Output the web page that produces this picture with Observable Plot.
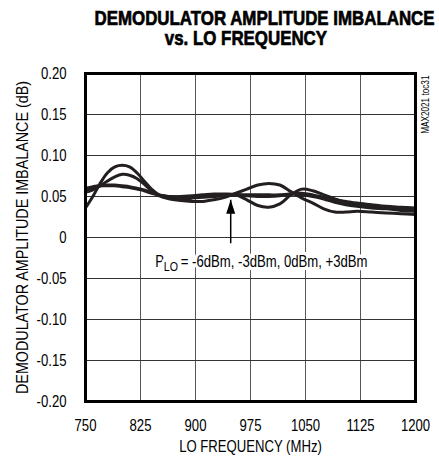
<!DOCTYPE html>
<html><head><meta charset="utf-8">
<script src="https://cdn.jsdelivr.net/npm/d3@7"></script>
<script src="https://cdn.jsdelivr.net/npm/@observablehq/plot@0.6"></script>
<style>
body{margin:0;background:#fff;}
#title{box-sizing:border-box;width:439px;height:48px;padding:8px 0 0 53px;font-family:"Liberation Sans",Arial,sans-serif;font-weight:bold;font-size:21px;line-height:20px;text-align:center;color:#000;white-space:nowrap;-webkit-text-stroke:0.7px #000;}
#title span{display:inline-block;transform-origin:center;height:20px;}
#chart svg{display:block;}
</style></head><body>
<div id="title"></div>
<div id="chart"></div>
<script>
const titleLines = ["DEMODULATOR AMPLITUDE IMBALANCE", "vs. LO FREQUENCY"];
const xLabel = "LO FREQUENCY (MHz)";
const yLabel = "DEMODULATOR AMPLITUDE IMBALANCE (dB)";
const annotationParts = ["P", "LO", " = -6dBm, -3dBm, 0dBm, +3dBm"];
const watermark = "MAX2021 toc31";
const xTicks = [750, 825, 900, 975, 1050, 1125, 1200];
const yTicks = [0.20, 0.15, 0.10, 0.05, 0, -0.05, -0.10, -0.15, -0.20];

const freqs = [750, 760, 770, 780, 790, 800, 810, 820, 830, 840, 850, 865, 880, 895, 910, 925, 940, 955, 970, 985, 1000, 1015, 1030, 1045, 1060, 1075, 1090, 1105, 1120, 1140, 1160, 1180, 1200];
const seriesA = [0.036, 0.050, 0.066, 0.079, 0.086, 0.088, 0.086, 0.079, 0.069, 0.059, 0.052, 0.048, 0.047, 0.048, 0.049, 0.050, 0.051, 0.052, 0.052, 0.052, 0.052, 0.052, 0.053, 0.052, 0.050, 0.047, 0.043, 0.040, 0.038, 0.036, 0.035, 0.033, 0.032];
const seriesB = [0.055, 0.058, 0.063, 0.069, 0.074, 0.077, 0.076, 0.072, 0.065, 0.057, 0.051, 0.047, 0.045, 0.044, 0.044, 0.046, 0.049, 0.054, 0.059, 0.064, 0.066, 0.064, 0.056, 0.048, 0.042, 0.035, 0.031, 0.031, 0.032, 0.031, 0.030, 0.029, 0.028];
const seriesC = [0.058, 0.061, 0.063, 0.063, 0.063, 0.062, 0.061, 0.059, 0.057, 0.054, 0.052, 0.050, 0.050, 0.051, 0.052, 0.053, 0.053, 0.052, 0.046, 0.039, 0.037, 0.041, 0.052, 0.059, 0.057, 0.052, 0.047, 0.043, 0.040, 0.038, 0.036, 0.035, 0.034];
const seriesD = [0.060, 0.062, 0.063, 0.064, 0.064, 0.063, 0.062, 0.060, 0.058, 0.055, 0.052, 0.050, 0.049, 0.050, 0.051, 0.052, 0.052, 0.052, 0.051, 0.050, 0.050, 0.051, 0.053, 0.054, 0.052, 0.049, 0.046, 0.044, 0.042, 0.040, 0.038, 0.037, 0.036];
const seriesNames = ["-6dBm", "-3dBm", "0dBm", "+3dBm"];

// annotation anchor (data space)
const arrowFreq = [948];
const arrowTip = [0.046];
const arrowTail = [-0.007];
const labelFreq = [845];
const labelVal = [-0.030];

const allSeries = [seriesA, seriesB, seriesC, seriesD];
const rows = allSeries.flatMap((s, i) => s.map((v, j) => ({f: freqs[j], v, s: seriesNames[i]})));

const font = '"Liberation Sans",Arial,sans-serif';
const ink = "#231f20";
const narrow = 0.82;

const triSymbol = {draw(ctx) { ctx.moveTo(0, 0); ctx.lineTo(4.5, 14); ctx.lineTo(-4.5, 14); ctx.closePath(); }};
const fmtY = d => d === 0 ? "0" : d.toFixed(2);

// title
const titleEl = document.getElementById("title");
titleLines.forEach((l, i) => {
  if (i) titleEl.appendChild(document.createElement("br"));
  const s = document.createElement("span"); s.textContent = l; titleEl.appendChild(s);
});
const spans = titleEl.querySelectorAll("span");
const k = 340 / spans[0].getBoundingClientRect().width;
spans.forEach(s => s.style.transform = `scaleX(${k})`);

const halo = {fill: "#000", stroke: "#fff", strokeWidth: 7};
const plot = Plot.plot({
  width: 439, height: 410,
  marginTop: 25, marginBottom: 57, marginLeft: 85, marginRight: 24,
  style: {fontFamily: font, fontSize: "16px", color: "#000", background: "#fff"},
  x: {domain: [750, 1200], label: null},
  y: {domain: [-0.20, 0.20], label: null},
  marks: [
    Plot.gridX(xTicks, {stroke: "#555", strokeOpacity: 1, strokeWidth: 1}),
    Plot.gridY(yTicks, {stroke: "#333", strokeOpacity: 1, strokeWidth: 1}),
    Plot.line(rows, {x: "f", y: "v", z: "s", stroke: ink, strokeWidth: 3, curve: "catmull-rom"}),
    Plot.text([annotationParts[2]], {x: labelFreq, y: labelVal, dx: 22, text: d => d, textAnchor: "start", fontSize: 16, ...halo}),
    Plot.text([annotationParts[0]], {x: labelFreq, y: labelVal, text: d => d, textAnchor: "start", fontSize: 16, ...halo}),
    Plot.text([annotationParts[1]], {x: labelFreq, y: labelVal, dx: 8.6, dy: 5, text: d => d, textAnchor: "start", fontSize: 13, ...halo}),
    Plot.link([0], {x1: arrowFreq, x2: arrowFreq, y1: arrowTail, y2: arrowTip, stroke: "#000", strokeWidth: 1.5}),
    Plot.dot([0], {x: arrowFreq, y: arrowTip, symbol: triSymbol, fill: "#000", stroke: null}),
    Plot.frame({stroke: "#000", strokeWidth: 3}),
    Plot.axisX({ticks: xTicks, tickSize: 0, tickPadding: 18, tickFormat: d => String(d), fontSize: 16, label: null}),
    Plot.axisY({ticks: yTicks, tickSize: 0, tickPadding: 19, tickFormat: fmtY, fontSize: 16, label: null}),
    Plot.text([xLabel], {frameAnchor: "bottom", dy: 50, text: d => d, fontSize: 16, fill: "#000"}),
    Plot.text([yLabel], {frameAnchor: "left", dx: -63, rotate: -90, textAnchor: "middle", text: d => d, fontSize: 16, fill: "#000"}),
    Plot.text([watermark], {frameAnchor: "top-right", dx: 6, dy: 2, rotate: -90, textAnchor: "end", text: d => d, fontSize: 10, fill: "#000"})
  ]
});

document.getElementById("chart").appendChild(plot);

plot.querySelectorAll("text").forEach(t => {
  const w = t.getComputedTextLength();
  if (!(w > 0)) return;
  const f = t.textContent === yLabel ? 313 / w : narrow;
  t.setAttribute("textLength", (w * f).toFixed(2));
  t.setAttribute("lengthAdjust", "spacingAndGlyphs");
});
</script>
</body></html>
